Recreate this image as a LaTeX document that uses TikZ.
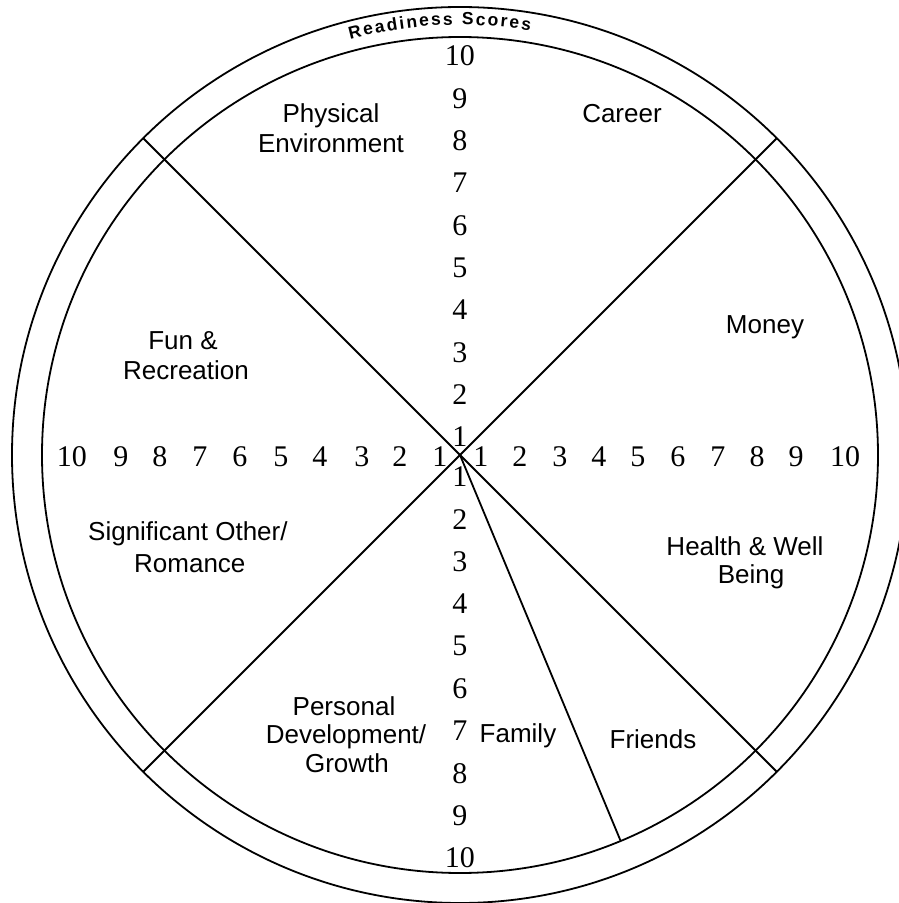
\documentclass[tikz,border=0pt]{standalone}
\usepackage{fontspec}
\setmainfont{Liberation Serif}
\setsansfont{Liberation Sans}
\begin{document}
\begin{tikzpicture}[x=1pt,y=1pt,
  ring/.style={line width=1.8pt},
  spoke/.style={line width=1.8pt},
  num/.style={inner sep=0pt,anchor=center,font=\rmfamily\fontsize{30}{34}\selectfont},
  lab/.style={inner sep=0pt,anchor=base,font=\sffamily\fontsize{26}{29}\selectfont},
  labw/.style={inner sep=0pt,anchor=base west,font=\sffamily\fontsize{26}{29}\selectfont},
  rs/.style={inner sep=0pt,anchor=base,font=\sffamily\bfseries\fontsize{17.5}{17.5}\selectfont}]
\useasboundingbox (-460,-448) rectangle (439,455);
\clip (-460,-448) rectangle (439,455);
\fill[white] (-460,-448) rectangle (439,455);
% circles
\coordinate (c) at (0,0);
\draw[ring] (c) circle[radius=448];
\draw[ring] (c) circle[radius=418];
% spokes
\coordinate (ul) at (135:448);
\coordinate (lr) at (-45:448);
\coordinate (ur) at (45:448);
\coordinate (ll) at (225:448);
\coordinate (fam) at (-67.4:418);
\draw[spoke] (ul) -- (lr);
\draw[spoke] (ur) -- (ll);
\draw[spoke] (c) -- (fam);
% vertical scale
\foreach \k in {1,...,10} {
  \node[num] (up\k) at (0,{18+42.33*(\k-1)}) {\k};
  \node[num] (dn\k) at (0,{-22-42.33*(\k-1)}) {\k};
}
% horizontal scale
\foreach \x [count=\k] in {21,60,100,139,178,218,258,297,336,385}
  \node[num] (rt\k) at (\x,-2) {\k};
\foreach \x [count=\k] in {-20,-60,-98,-140,-179,-220,-260,-300,-339,-388}
  \node[num] (lf\k) at (\x,-2) {\k};
% readiness scores
\foreach \ch/\a [count=\i] in {R/103.95,e/102.19,a/100.62,d/98.99,i/97.67,n/96.36,e/94.73,s/93.16,s/91.60,S/88.97,c/87.28,o/85.64,r/84.20,e/82.83,s/81.26}
  \node[rs,rotate=\a-90] (rs\i) at (\a:430) {\ch};
% labels
\node[lab] (pe1) at (-129,332) {Physical};
\node[lab] (pe2) at (-129,302) {Environment};
\node[lab] (car) at (162,332) {Career};
\node[lab] (mon) at (305,122) {Money};
\node[lab] (fun1) at (-277,106) {Fun \&};
\node[lab] (fun2) at (-274,76) {Recreation};
\node[labw] (so1) at (-372,-85) {Significant Other/};
\node[labw] (so2) at (-326,-117) {Romance};
\node[lab] (hw1) at (285,-100) {Health \& Well};
\node[lab] (hw2) at (291,-128) {Being};
\node[lab] (pd1) at (-116,-260) {Personal};
\node[lab] (pd2) at (-114,-288) {Development/};
\node[lab] (pd3) at (-113,-317) {Growth};
\node[lab] (fa) at (58,-287) {Family};
\node[lab] (fr) at (193,-293) {Friends};
\end{tikzpicture}
\end{document}
